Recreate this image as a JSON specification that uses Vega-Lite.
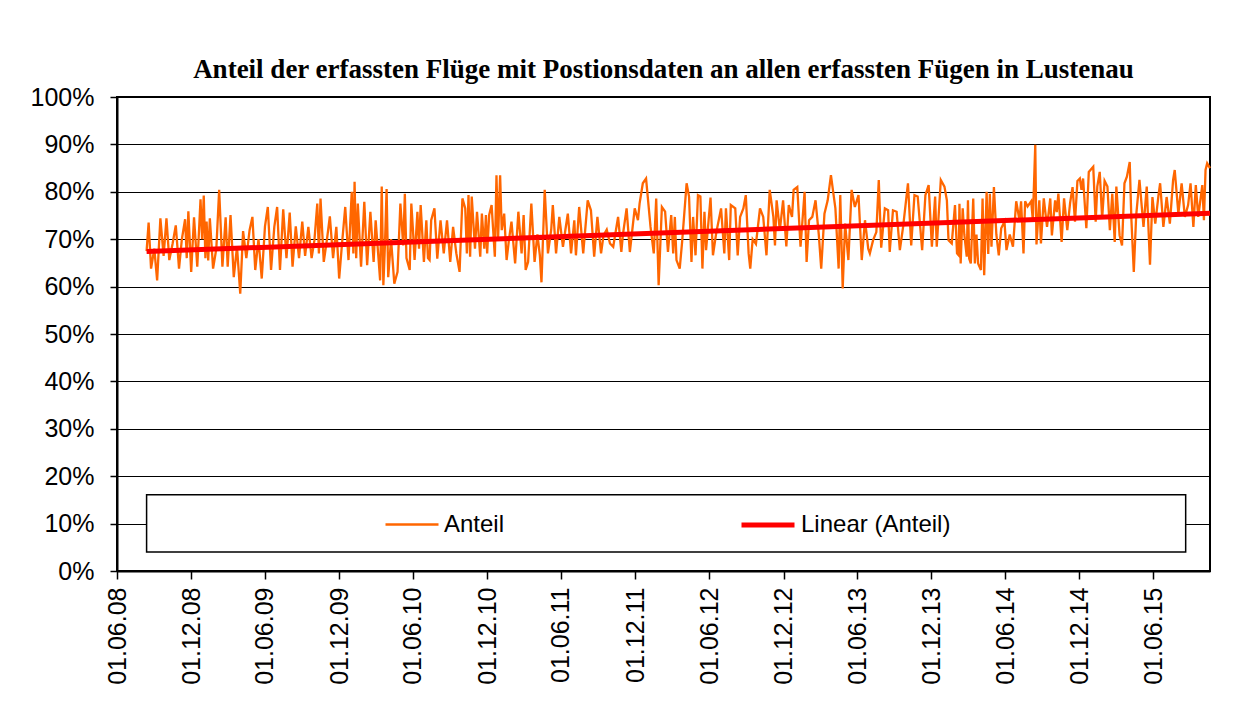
{
  "$schema": "https://vega.github.io/schema/vega-lite/v6.json",
  "width": 1093,
  "height": 474,
  "autosize": "none",
  "padding": {"left": 117, "top": 97, "right": 42, "bottom": 153},
  "background": "white",
  "config": {
    "view": {"stroke": "black", "strokeWidth": 2},
    "font": "Liberation Sans",
    "legend": {
      "orient": "none", "legendX": 267, "legendY": 399, "direction": "horizontal",
      "symbolType": "stroke", "symbolSize": 2809, "labelFontSize": 24, "labelFont": "Liberation Sans",
      "labelColor": "black", "labelOffset": 4, "columnPadding": 226, "padding": 0, "titlePadding": 0
    }
  },
  "title": {
    "text": "Anteil der erfassten Flüge mit Postionsdaten an allen erfassten Fügen in Lustenau",
    "font": "Liberation Serif", "fontSize": 27, "fontWeight": "bold", "color": "black",
    "anchor": "middle", "offset": 1
  },
  "datasets": {
    "anteil": [
      {"d":"2008-08-13","v":67.5},{"d":"2008-08-18","v":73.5},{"d":"2008-08-24","v":63.8},{"d":"2008-09-01","v":68},{"d":"2008-09-08","v":61.3},{"d":"2008-09-16","v":74.4},{"d":"2008-09-24","v":66.5},
      {"d":"2008-10-01","v":74.4},{"d":"2008-10-08","v":65.6},{"d":"2008-10-16","v":69},{"d":"2008-10-24","v":72.9},{"d":"2008-11-01","v":63.8},{"d":"2008-11-08","v":70},{"d":"2008-11-16","v":74.2},{"d":"2008-11-20","v":66},{"d":"2008-11-24","v":75.9},
      {"d":"2008-12-01","v":63.1},{"d":"2008-12-08","v":74.6},{"d":"2008-12-16","v":64.2},{"d":"2008-12-24","v":78.4},{"d":"2008-12-28","v":70},
      {"d":"2009-01-01","v":79.2},{"d":"2009-01-05","v":66},{"d":"2009-01-08","v":73.7},{"d":"2009-01-12","v":65.5},{"d":"2009-01-16","v":74.4},{"d":"2009-01-24","v":63.8},
      {"d":"2009-02-01","v":68},{"d":"2009-02-08","v":80.4},{"d":"2009-02-16","v":64.2},{"d":"2009-02-24","v":74.6},{"d":"2009-03-01","v":64.2},{"d":"2009-03-08","v":75.1},{"d":"2009-03-16","v":62.0},{"d":"2009-03-24","v":68.4},
      {"d":"2009-04-01","v":58.5},{"d":"2009-04-08","v":71.7},{"d":"2009-04-16","v":66},{"d":"2009-04-24","v":71.9},{"d":"2009-05-01","v":74.7},{"d":"2009-05-08","v":63.5},{"d":"2009-05-16","v":70},{"d":"2009-05-24","v":61.7},
      {"d":"2009-06-01","v":72.7},{"d":"2009-06-08","v":76.8},{"d":"2009-06-16","v":63.5},{"d":"2009-06-24","v":72.6},{"d":"2009-07-01","v":76.8},{"d":"2009-07-08","v":63.5},{"d":"2009-07-16","v":76.3},{"d":"2009-07-24","v":66},
      {"d":"2009-08-01","v":75.6},{"d":"2009-08-08","v":64.2},{"d":"2009-08-16","v":72.7},{"d":"2009-08-24","v":66},{"d":"2009-09-01","v":73.7},{"d":"2009-09-08","v":66.5},{"d":"2009-09-16","v":72.6},{"d":"2009-09-24","v":66},
      {"d":"2009-10-01","v":69.8},{"d":"2009-10-08","v":77.5},{"d":"2009-10-12","v":67},{"d":"2009-10-16","v":78.6},{"d":"2009-10-24","v":65.2},{"d":"2009-11-01","v":70},{"d":"2009-11-08","v":74.8},{"d":"2009-11-16","v":66},{"d":"2009-11-24","v":72.6},
      {"d":"2009-12-01","v":61.7},{"d":"2009-12-08","v":69},{"d":"2009-12-16","v":76.8},{"d":"2009-12-24","v":65.6},
      {"d":"2010-01-01","v":80},{"d":"2010-01-05","v":67},{"d":"2010-01-08","v":82.1},{"d":"2010-01-12","v":66},{"d":"2010-01-16","v":77.5},{"d":"2010-01-24","v":64.2},
      {"d":"2010-02-01","v":77.9},{"d":"2010-02-08","v":64.5},{"d":"2010-02-16","v":75.8},{"d":"2010-02-24","v":65.2},
      {"d":"2010-03-01","v":74.0},{"d":"2010-03-08","v":66},{"d":"2010-03-12","v":61.3},{"d":"2010-03-16","v":81.1},{"d":"2010-03-20","v":60.3},{"d":"2010-03-24","v":69},{"d":"2010-03-28","v":80.6},
      {"d":"2010-04-01","v":62},{"d":"2010-04-08","v":70},{"d":"2010-04-16","v":60.6},{"d":"2010-04-24","v":63.1},
      {"d":"2010-05-01","v":77.5},{"d":"2010-05-08","v":68.7},{"d":"2010-05-12","v":79.6},{"d":"2010-05-16","v":66},{"d":"2010-05-24","v":63.5},{"d":"2010-05-28","v":77.5},
      {"d":"2010-06-01","v":72},{"d":"2010-06-05","v":65.6},{"d":"2010-06-12","v":75.8},{"d":"2010-06-16","v":68},{"d":"2010-06-20","v":77.2},{"d":"2010-06-28","v":65.2},
      {"d":"2010-07-04","v":74},{"d":"2010-07-08","v":66},{"d":"2010-07-12","v":65.6},{"d":"2010-07-16","v":74},{"d":"2010-07-24","v":76.5},{"d":"2010-07-31","v":65.9},
      {"d":"2010-08-08","v":74},{"d":"2010-08-16","v":67},{"d":"2010-08-24","v":74},{"d":"2010-09-01","v":65.2},{"d":"2010-09-08","v":72.6},{"d":"2010-09-16","v":67},{"d":"2010-09-24","v":63.1},
      {"d":"2010-10-01","v":78.6},{"d":"2010-10-08","v":76.5},{"d":"2010-10-12","v":67},{"d":"2010-10-16","v":79.3},{"d":"2010-10-20","v":66.3},{"d":"2010-10-24","v":79},
      {"d":"2010-11-01","v":68},{"d":"2010-11-06","v":75.8},{"d":"2010-11-14","v":66.3},{"d":"2010-11-18","v":75.4},{"d":"2010-11-24","v":68},{"d":"2010-11-28","v":75.1},
      {"d":"2010-12-01","v":67},{"d":"2010-12-06","v":75.1},{"d":"2010-12-12","v":77.2},{"d":"2010-12-20","v":66.3},{"d":"2010-12-24","v":83.5},{"d":"2010-12-28","v":70},
      {"d":"2011-01-02","v":83.5},{"d":"2011-01-06","v":71.9},{"d":"2011-01-12","v":75.4},{"d":"2011-01-18","v":65.6},{"d":"2011-01-24","v":70},{"d":"2011-01-30","v":73.7},
      {"d":"2011-02-08","v":64.9},{"d":"2011-02-16","v":75.8},{"d":"2011-02-24","v":67},
      {"d":"2011-03-01","v":75.1},{"d":"2011-03-06","v":63.5},{"d":"2011-03-12","v":65.2},{"d":"2011-03-20","v":77.5},{"d":"2011-03-28","v":65.2},
      {"d":"2011-04-04","v":71},{"d":"2011-04-10","v":66.6},{"d":"2011-04-14","v":60.9},{"d":"2011-04-22","v":80.4},{"d":"2011-04-30","v":67},
      {"d":"2011-05-08","v":72},{"d":"2011-05-12","v":77.2},{"d":"2011-05-20","v":67},{"d":"2011-05-28","v":74.7},
      {"d":"2011-06-06","v":68.4},{"d":"2011-06-12","v":72},{"d":"2011-06-18","v":75.4},{"d":"2011-06-26","v":67},
      {"d":"2011-07-04","v":74},{"d":"2011-07-08","v":66.6},{"d":"2011-07-16","v":76.8},{"d":"2011-07-26","v":67},
      {"d":"2011-08-06","v":78.2},{"d":"2011-08-14","v":76.1},{"d":"2011-08-22","v":66.3},{"d":"2011-08-30","v":74.7},
      {"d":"2011-09-08","v":67},{"d":"2011-09-14","v":70.8},{"d":"2011-09-22","v":72},{"d":"2011-09-30","v":69.1},
      {"d":"2011-10-08","v":68.4},{"d":"2011-10-20","v":74.7},{"d":"2011-10-28","v":67.3},
      {"d":"2011-11-01","v":71},{"d":"2011-11-10","v":76.5},{"d":"2011-11-18","v":67.3},{"d":"2011-11-30","v":76.5},
      {"d":"2011-12-08","v":74},{"d":"2011-12-12","v":77.5},{"d":"2011-12-20","v":81.8},{"d":"2011-12-28","v":82.8},
      {"d":"2012-01-08","v":72.6},{"d":"2012-01-16","v":67},{"d":"2012-01-22","v":78.6},{"d":"2012-01-28","v":60.3},
      {"d":"2012-02-05","v":76.8},{"d":"2012-02-13","v":75.8},{"d":"2012-02-20","v":67.3},{"d":"2012-02-28","v":75.1},
      {"d":"2012-03-04","v":67},{"d":"2012-03-08","v":74.7},{"d":"2012-03-12","v":65.6},{"d":"2012-03-20","v":63.8},{"d":"2012-03-26","v":69.5},
      {"d":"2012-04-06","v":81.8},{"d":"2012-04-12","v":79},{"d":"2012-04-18","v":65.2},{"d":"2012-04-22","v":74.7},{"d":"2012-04-28","v":66.6},
      {"d":"2012-05-04","v":79.3},{"d":"2012-05-10","v":79},{"d":"2012-05-15","v":63.8},{"d":"2012-05-20","v":75.8},{"d":"2012-05-24","v":67.7},
      {"d":"2012-06-04","v":78.8},{"d":"2012-06-10","v":66.6},{"d":"2012-06-18","v":71.3},{"d":"2012-06-30","v":76.5},
      {"d":"2012-07-08","v":67},{"d":"2012-07-12","v":76.5},{"d":"2012-07-20","v":65.6},{"d":"2012-07-24","v":77.2},
      {"d":"2012-08-04","v":76.5},{"d":"2012-08-10","v":66.6},{"d":"2012-08-16","v":74.7},{"d":"2012-08-24","v":76.5},{"d":"2012-08-30","v":79.3},
      {"d":"2012-09-06","v":67},{"d":"2012-09-10","v":63.8},{"d":"2012-09-16","v":70},{"d":"2012-09-24","v":69},
      {"d":"2012-10-04","v":76.5},{"d":"2012-10-12","v":74.7},{"d":"2012-10-20","v":66.6},{"d":"2012-10-28","v":80.4},
      {"d":"2012-11-06","v":74.7},{"d":"2012-11-10","v":68.7},{"d":"2012-11-14","v":78.2},{"d":"2012-11-22","v":71.9},{"d":"2012-11-30","v":78.2},
      {"d":"2012-12-08","v":68.5},{"d":"2012-12-14","v":77.2},{"d":"2012-12-22","v":74.7},{"d":"2012-12-26","v":80.4},
      {"d":"2013-01-04","v":81},{"d":"2013-01-12","v":68.4},{"d":"2013-01-22","v":80},{"d":"2013-01-27","v":65.2},
      {"d":"2013-02-02","v":74},{"d":"2013-02-10","v":74.7},{"d":"2013-02-18","v":78.2},{"d":"2013-02-26","v":71},
      {"d":"2013-03-04","v":63.8},{"d":"2013-03-12","v":75.4},{"d":"2013-03-20","v":78.2},{"d":"2013-03-28","v":83.5},
      {"d":"2013-04-08","v":76.5},{"d":"2013-04-16","v":63.8},{"d":"2013-04-20","v":79.3},{"d":"2013-04-26","v":59.6},
      {"d":"2013-05-02","v":73.3},{"d":"2013-05-10","v":65.6},{"d":"2013-05-18","v":80.4},{"d":"2013-05-26","v":76.8},
      {"d":"2013-06-04","v":79.3},{"d":"2013-06-12","v":65.6},{"d":"2013-06-20","v":74},{"d":"2013-06-28","v":68},
      {"d":"2013-07-02","v":67},{"d":"2013-07-10","v":69.8},{"d":"2013-07-18","v":71.5},{"d":"2013-07-24","v":82.5},{"d":"2013-07-30","v":68.2},
      {"d":"2013-08-08","v":76.5},{"d":"2013-08-16","v":76.1},{"d":"2013-08-20","v":67.3},{"d":"2013-08-28","v":76.1},
      {"d":"2013-09-06","v":75.8},{"d":"2013-09-14","v":67.7},{"d":"2013-09-22","v":72.6},
      {"d":"2013-10-04","v":81.8},{"d":"2013-10-12","v":68.7},{"d":"2013-10-20","v":79.3},{"d":"2013-10-28","v":79},
      {"d":"2013-11-08","v":67.7},{"d":"2013-11-16","v":79.3},{"d":"2013-11-24","v":81.4},
      {"d":"2013-12-02","v":68.4},{"d":"2013-12-10","v":79},{"d":"2013-12-14","v":68.4},{"d":"2013-12-24","v":82.5},
      {"d":"2014-01-02","v":81.1},{"d":"2014-01-08","v":78.2},{"d":"2014-01-12","v":69.8},{"d":"2014-01-20","v":69.1},{"d":"2014-01-28","v":77.2},
      {"d":"2014-02-02","v":67},{"d":"2014-02-06","v":66.6},{"d":"2014-02-08","v":77.5},{"d":"2014-02-11","v":64.9},{"d":"2014-02-16","v":76.5},{"d":"2014-02-20","v":71},{"d":"2014-02-26","v":66.3},
      {"d":"2014-03-01","v":78.2},{"d":"2014-03-04","v":65.9},{"d":"2014-03-08","v":64.9},{"d":"2014-03-14","v":78.6},{"d":"2014-03-18","v":64.9},{"d":"2014-03-22","v":71},{"d":"2014-03-26","v":64.9},
      {"d":"2014-04-02","v":63.5},{"d":"2014-04-06","v":78.6},{"d":"2014-04-10","v":62.4},{"d":"2014-04-16","v":80},{"d":"2014-04-20","v":66.9},{"d":"2014-04-24","v":79.6},{"d":"2014-04-28","v":68.4},
      {"d":"2014-05-04","v":81},{"d":"2014-05-10","v":71},{"d":"2014-05-16","v":66.6},{"d":"2014-05-22","v":72.3},{"d":"2014-05-30","v":73.7},
      {"d":"2014-06-04","v":67.7},{"d":"2014-06-12","v":71},{"d":"2014-06-20","v":68.4},{"d":"2014-06-28","v":78},
      {"d":"2014-07-06","v":74},{"d":"2014-07-10","v":78},{"d":"2014-07-16","v":67},{"d":"2014-07-20","v":78},{"d":"2014-07-26","v":76.9},
      {"d":"2014-08-04","v":78},{"d":"2014-08-08","v":74},{"d":"2014-08-14","v":89.9},{"d":"2014-08-17","v":68.9},{"d":"2014-08-24","v":78.2},{"d":"2014-08-28","v":69.1},
      {"d":"2014-09-04","v":78.6},{"d":"2014-09-12","v":72.6},{"d":"2014-09-20","v":78.6},{"d":"2014-09-24","v":70.8},
      {"d":"2014-10-02","v":78.2},{"d":"2014-10-06","v":75.7},{"d":"2014-10-10","v":79.6},{"d":"2014-10-18","v":69.4},{"d":"2014-10-24","v":78.6},
      {"d":"2014-11-01","v":71.9},{"d":"2014-11-08","v":77.7},{"d":"2014-11-14","v":81},{"d":"2014-11-20","v":73.7},{"d":"2014-11-26","v":82.3},
      {"d":"2014-12-02","v":82.8},{"d":"2014-12-06","v":80.4},{"d":"2014-12-10","v":82.8},{"d":"2014-12-18","v":72.3},{"d":"2014-12-24","v":84.2},
      {"d":"2015-01-04","v":85.3},{"d":"2015-01-10","v":73.7},{"d":"2015-01-14","v":81.1},{"d":"2015-01-20","v":84.2},{"d":"2015-01-26","v":74.4},
      {"d":"2015-02-01","v":82.3},{"d":"2015-02-08","v":81.1},{"d":"2015-02-14","v":71.9},{"d":"2015-02-20","v":79.6},{"d":"2015-02-26","v":69.4},
      {"d":"2015-03-02","v":81.1},{"d":"2015-03-10","v":70.8},{"d":"2015-03-16","v":68.7},{"d":"2015-03-22","v":81.8},{"d":"2015-03-28","v":83.2},
      {"d":"2015-04-04","v":86.3},{"d":"2015-04-08","v":74.4},{"d":"2015-04-14","v":63.1},{"d":"2015-04-20","v":75.1},{"d":"2015-04-28","v":82.5},
      {"d":"2015-05-08","v":72.6},{"d":"2015-05-16","v":81.1},{"d":"2015-05-24","v":64.6},{"d":"2015-05-30","v":78.9},
      {"d":"2015-06-06","v":73.3},{"d":"2015-06-14","v":79.3},{"d":"2015-06-18","v":81.8},{"d":"2015-06-26","v":72.6},
      {"d":"2015-07-04","v":78.9},{"d":"2015-07-12","v":73.3},{"d":"2015-07-20","v":82.5},{"d":"2015-07-24","v":84.6},
      {"d":"2015-08-02","v":75.4},{"d":"2015-08-10","v":81.8},{"d":"2015-08-18","v":74.7},{"d":"2015-08-26","v":77.2},
      {"d":"2015-09-01","v":81.8},{"d":"2015-09-08","v":72.6},{"d":"2015-09-14","v":81.4},{"d":"2015-09-20","v":74.7},{"d":"2015-09-30","v":81.4},
      {"d":"2015-10-04","v":74},{"d":"2015-10-08","v":84.6},{"d":"2015-10-12","v":86},{"d":"2015-10-19","v":85}
    ],
    "trend": [
      {"d":"2008-08-13","v":67.4},{"d":"2015-10-19","v":75.5}
    ]
  },
  "layer": [
    {
      "data": {"name": "anteil"},
      "mark": {"type": "line", "interpolate": "linear"},
      "encoding": {
        "x": {
          "field": "d", "type": "temporal",
          "scale": {"type": "utc", "domain": [{"year":2008,"month":6,"date":1,"utc":true},{"year":2015,"month":10,"date":19,"utc":true}], "nice": false},
          "axis": {
            "title": null, "grid": false, "format": "%d.%m.%y", "labelAngle": 270,
            "values": [
              {"year":2008,"month":6,"date":1,"utc":true},{"year":2008,"month":12,"date":1,"utc":true},
              {"year":2009,"month":6,"date":1,"utc":true},{"year":2009,"month":12,"date":1,"utc":true},
              {"year":2010,"month":6,"date":1,"utc":true},{"year":2010,"month":12,"date":1,"utc":true},
              {"year":2011,"month":6,"date":1,"utc":true},{"year":2011,"month":12,"date":1,"utc":true},
              {"year":2012,"month":6,"date":1,"utc":true},{"year":2012,"month":12,"date":1,"utc":true},
              {"year":2013,"month":6,"date":1,"utc":true},{"year":2013,"month":12,"date":1,"utc":true},
              {"year":2014,"month":6,"date":1,"utc":true},{"year":2014,"month":12,"date":1,"utc":true},
              {"year":2015,"month":6,"date":1,"utc":true}
            ],
            "labelFont": "Liberation Sans", "labelFontSize": 25, "labelColor": "black",
            "domainColor": "black", "domainWidth": 2, "tickColor": "black", "tickWidth": 1.5, "tickSize": 8,
            "labelPadding": 8, "labelOverlap": false, "labelBound": false, "labelFlush": false
          }
        },
        "y": {
          "field": "v", "type": "quantitative",
          "scale": {"domain": [0, 100], "nice": false, "zero": true},
          "axis": {
            "title": null, "values": [0,10,20,30,40,50,60,70,80,90,100],
            "labelExpr": "datum.value + '%'",
            "grid": true, "gridColor": "black", "gridWidth": 1.2,
            "labelFont": "Liberation Sans", "labelFontSize": 25, "labelColor": "black",
            "domainColor": "black", "domainWidth": 2, "tickColor": "black", "tickWidth": 1.5, "tickSize": 7,
            "labelPadding": 16, "labelOverlap": false, "labelFlush": false
          }
        },
        "color": {
          "datum": "Anteil", "type": "nominal",
          "scale": {"domain": ["Anteil", "Linear (Anteil)"], "range": ["#FF6600", "#FF0000"]},
          "legend": {"title": null}
        },
        "strokeWidth": {
          "datum": "Anteil", "type": "nominal",
          "scale": {"domain": ["Anteil", "Linear (Anteil)"], "range": [2.3, 5]},
          "legend": {"title": null}
        }
      }
    },
    {
      "data": {"name": "trend"},
      "mark": {"type": "line"},
      "encoding": {
        "x": {"field": "d", "type": "temporal"},
        "y": {"field": "v", "type": "quantitative"},
        "color": {"datum": "Linear (Anteil)", "type": "nominal"},
        "strokeWidth": {"datum": "Linear (Anteil)", "type": "nominal"}
      }
    },
    {
      "data": {"values": [{}]},
      "mark": {"type": "rect", "fill": "white", "stroke": "black", "strokeWidth": 1.5},
      "encoding": {
        "x": {"datum": {"year":2008,"month":8,"date":13,"utc":true}, "type": "temporal"},
        "x2": {"datum": {"year":2015,"month":8,"date":20,"utc":true}},
        "y": {"datum": 4, "type": "quantitative"},
        "y2": {"datum": 16.1}
      }
    }
  ]
}
